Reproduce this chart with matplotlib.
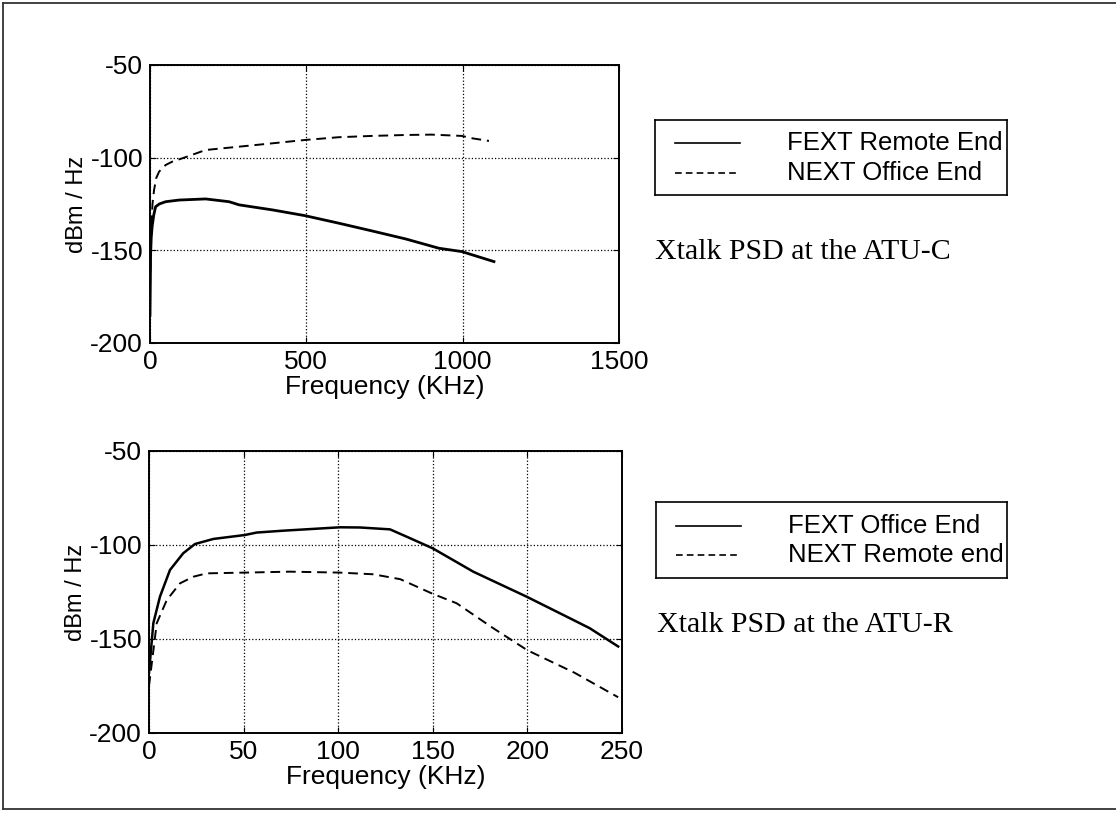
import numpy as np
import matplotlib.pyplot as plt
from matplotlib.lines import Line2D

# ATU-C crosstalk (top panel), frequency in KHz, PSD in dBm/Hz
freq_c = [0, 1, 2, 4, 7, 12, 18, 30, 50, 93, 178, 253, 285, 391, 495, 604, 711, 818, 924, 997, 1100]
fext_remote = [-185, -168, -152, -143, -137, -131, -126.5, -125, -123.8, -122.9, -122.3, -123.8,
               -125.5, -128.2, -131.3, -135.4, -139.6, -143.9, -148.9, -150.7, -156.1]
freq_c2 = [0, 2, 5, 8, 13, 20, 29, 50, 71, 103, 178, 285, 391, 495, 604, 711, 818, 900, 997, 1031, 1084]
next_office = [-170, -150, -135, -125, -117.5, -111, -107.6, -104, -102.2, -100.4, -95.9, -94.1,
               -92.3, -90.5, -89, -88.3, -87.8, -87.6, -88.3, -89.6, -91]

# ATU-R crosstalk (bottom panel)
freq_r = [0, 2.3, 5.8, 11.1, 18.1, 24.3, 34, 50.7, 56.9, 71, 101, 111.5, 127.4, 136.2, 150,
          171.4, 199.6, 224.3, 233, 248]
fext_office = [-168, -141.6, -127.5, -113.3, -104.4, -99.5, -96.8, -94.7, -93.4, -92.4, -90.6,
               -90.7, -91.7, -95.6, -101.8, -114.2, -127.5, -139.9, -144.3, -154]
freq_r2 = [0, 4.1, 9.4, 16.4, 23.4, 30.5, 50.7, 74.5, 101, 118.6, 132.8, 150, 162.6, 182,
           200, 225, 248]
next_remote = [-175, -141.6, -129.3, -120.4, -116.9, -115.1, -114.7, -114.2, -114.7, -115.6,
               -118.2, -126, -131, -144.3, -156, -168, -181]

xticks_c = [0, 500, 1000, 1500]
xticks_r = [0, 50, 100, 150, 200, 250]
yticks = [-200, -150, -100, -50]

plt.rcParams['font.family'] = ['Liberation Sans', 'DejaVu Sans']
plt.rcParams['axes.unicode_minus'] = False

fig = plt.figure(figsize=(11.16, 8.27), dpi=100)

# page frame (top, left, bottom; right side runs off the page)
for xs, ys in [([0.003, 1.0], [0.996, 0.996]), ([0.003, 0.003], [0.996, 0.022]),
               ([0.003, 1.0], [0.022, 0.022])]:
    fig.add_artist(Line2D(xs, ys, transform=fig.transFigure, color='#333333', linewidth=1.3))


def setup(ax, xticks, xmax):
    ax.set_xlim(0, xmax)
    ax.set_ylim(-200, -50)
    ax.set_xticks(xticks)
    ax.set_yticks(yticks)
    ax.grid(True, linestyle=':', color='black', linewidth=0.9)
    ax.tick_params(direction='in', length=4, labelsize=19, top=True, right=True, pad=5)
    for s in ax.spines.values():
        s.set_linewidth(1.4)
    ax.set_xlabel("Frequency (KHz)", fontsize=19, labelpad=1)
    ax.set_ylabel("dBm / Hz", fontsize=17, labelpad=2)


def legend_box(rect, labels):
    lax = fig.add_axes(rect)
    lax.set_xlim(0, 1)
    lax.set_ylim(0, 1)
    lax.set_xticks([])
    lax.set_yticks([])
    for s in lax.spines.values():
        s.set_linewidth(1.2)
    rows = [0.69, 0.30]
    styles = ['-', '--']
    for y, ls, lab in zip(rows, styles, labels):
        lax.plot([0.057, 0.241], [y, y], color='black', linestyle=ls, linewidth=1.2,
                 dashes=(4, 2.5) if ls == '--' else (None, None))
        lax.text(0.375, y, lab, fontsize=18.5, va='center', ha='left', clip_on=True)
    return lax


ax1 = fig.add_axes([0.1344, 0.5853, 0.4203, 0.3362])
ax1.plot(freq_c, fext_remote, color='black', linewidth=2.0)
ax1.plot(freq_c2, next_office, color='black', linewidth=1.4, linestyle='--', dashes=(5, 3))
setup(ax1, xticks_c, 1500)

ax2 = fig.add_axes([0.1335, 0.1137, 0.4238, 0.341])
ax2.plot(freq_r, fext_office, color='black', linewidth=1.8)
ax2.plot(freq_r2, next_remote, color='black', linewidth=1.4, linestyle='--', dashes=(5, 3))
setup(ax2, xticks_r, 250)

legend_box([0.5869, 0.7642, 0.3154, 0.0907], ["FEXT Remote End", "NEXT Office End"])
legend_box([0.5878, 0.3011, 0.3145, 0.0919], ["FEXT Office End", "NEXT Remote end"])

fig.text(0.5869, 1 - 252 / 827, "Xtalk PSD at the ATU-C", fontsize=21.5,
         family='Liberation Serif', va='center', ha='left')
fig.text(0.5887, 1 - 625 / 827, "Xtalk PSD at the ATU-R", fontsize=21.5,
         family='Liberation Serif', va='center', ha='left')

fig.savefig("out.png", dpi=100)
